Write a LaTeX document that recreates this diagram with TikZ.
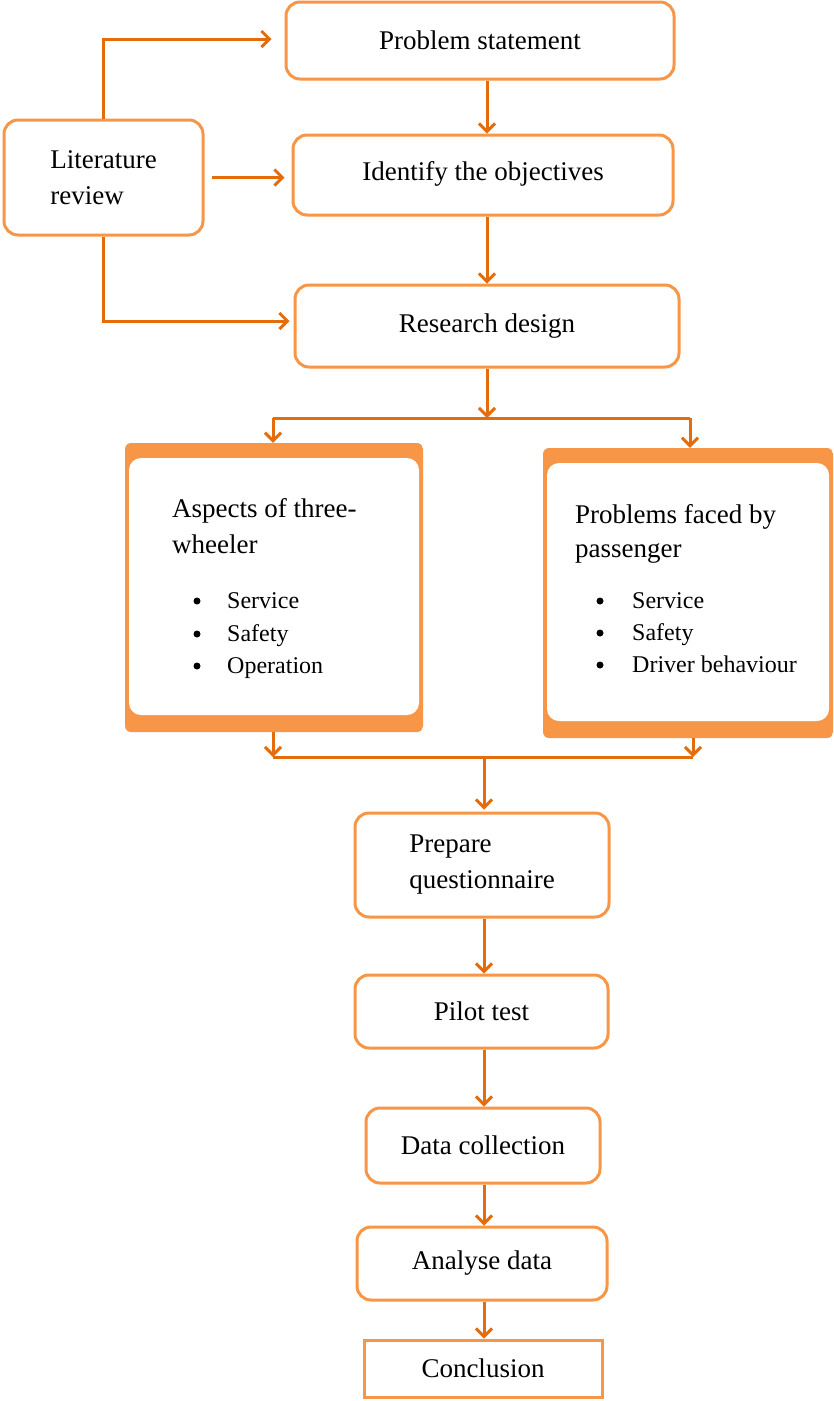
\documentclass[tikz,border=0pt]{standalone}
\usepackage{fontspec}
\setmainfont{Liberation Serif}
\usetikzlibrary{arrows.meta,calc}
\definecolor{boxor}{HTML}{F79646}
\definecolor{connor}{HTML}{E46C0A}
\newcommand{\titlefnt}{\fontsize{27}{36}\selectfont}
\newcommand{\itemfnt}{\fontsize{24}{33}\selectfont}
\begin{document}
\begin{tikzpicture}[x=1pt,y=-1pt,
  roundbox/.style={draw=boxor, line width=3pt, rounded corners=14pt, inner sep=0pt, align=left, font=\titlefnt},
  sharpbox/.style={draw=boxor, line width=3pt, inner sep=0pt, font=\titlefnt},
  bigbox/.style={rectangle, rounded corners=6pt, inner sep=0pt,
    path picture={
      \fill[boxor] (path picture bounding box.north west) rectangle (path picture bounding box.south east);
      \fill[white, rounded corners=12pt] ([xshift=4pt,yshift=-15pt]path picture bounding box.north west) rectangle ([xshift=-4pt,yshift=17pt]path picture bounding box.south east);
    }},
  conn/.style={draw=connor, line width=3pt, -{Straight Barb[length=8pt,width=16pt]}},
  plainline/.style={draw=connor, line width=3pt},
  ttl/.style={anchor=base west, inner sep=0pt, font=\titlefnt},
  itm/.style={anchor=base west, inner sep=0pt, font=\itemfnt},
  bul/.style={circle, fill=black, inner sep=0pt, minimum size=7pt}]
\useasboundingbox (0,0) rectangle (834,1401);
\fill[white] (0,0) rectangle (834,1401);

% boxes
\node[roundbox, minimum width=388pt, minimum height=77pt] (ps) at (480,40.5) {Problem statement};
\node[roundbox, minimum width=380pt, minimum height=80pt] (io) at (483,175) {\raisebox{8pt}{Identify the objectives}};
\node[roundbox, minimum width=384pt, minimum height=82pt] (rd) at (487,326) {Research design};
\node[roundbox, minimum width=199pt, minimum height=115pt] (lit) at (103.5,177.5) {Literature\\review};

\node[bigbox, minimum width=298pt, minimum height=289pt] (asp) at (274,587.5) {};
\node[bigbox, minimum width=290pt, minimum height=290pt] (pfp) at (688,593) {};

\node[roundbox, minimum width=254pt, minimum height=104pt] (pq) at (482,865) {Prepare\\questionnaire};
\node[roundbox, minimum width=253pt, minimum height=73pt] (pt) at (481.5,1011.5) {Pilot test};
\node[roundbox, minimum width=234pt, minimum height=75pt] (dc) at (483,1145.5) {Data collection};
\node[roundbox, minimum width=250pt, minimum height=73pt] (ad) at (482,1263.5) {Analyse data};
\node[sharpbox, minimum width=238pt, minimum height=57pt] (con) at (483,1368.5) {Conclusion};

% texts of big boxes
\node[ttl] (asp1) at (172,517) {Aspects of three-};
\node[ttl] (asp2) at (172,553) {wheeler};
\node[bul] (aspb1) at (197,601) {};
\node[bul] (aspb2) at (197,634) {};
\node[bul] (aspb3) at (197,666) {};
\node[itm] (aspi1) at (227,608) {Service};
\node[itm] (aspi2) at (227,641) {Safety};
\node[itm] (aspi3) at (227,673) {Operation};

\node[ttl] (pfp1) at (575,523) {Problems faced by};
\node[ttl] (pfp2) at (575,557) {passenger};
\node[bul] (pfpb1) at (600,601) {};
\node[bul] (pfpb2) at (600,633) {};
\node[bul] (pfpb3) at (600,665) {};
\node[itm] (pfpi1) at (632,608) {Service};
\node[itm] (pfpi2) at (632,640) {Safety};
\node[itm] (pfpi3) at (632,672) {Driver behaviour};

% junction coordinates
\coordinate (split) at (487,418);
\coordinate (splitL) at (273,418);
\coordinate (splitR) at (690,418);
\coordinate (join) at (484,757);
\coordinate (joinL) at (273,757);
\coordinate (joinR) at (693,757);

% literature review connectors
\draw[conn, shorten >=13pt] (lit.north) |- ([yshift=1.5pt]ps.west);
\draw[conn, shorten <=7pt, shorten >=7pt] (lit.east) -- (lit.east -| io.west);
\draw[conn, shorten >=4pt] (lit.south) |- ([yshift=5pt]rd.west);

% main column
\draw[conn] (ps.south -| rd.north) -- (io.north -| rd.north);
\draw[conn] (io.south -| rd.north) -- (rd.north);
\draw[conn] (rd.south) -- (split);
\draw[plainline] (splitL) -- (splitR);
\draw[conn] (splitL) -- (splitL |- asp.north);
\draw[conn] (splitR) -- (splitR |- pfp.north);
\draw[conn] (asp.south -| joinL) -- (joinL);
\draw[conn] (pfp.south -| joinR) -- (joinR);
\draw[plainline] (joinL) -- (joinR);
\draw[conn, shorten >=2pt] (join) -- (pq.north -| join);
\draw[conn] (pq.south -| join) -- (pt.north -| join);
\draw[conn] (pt.south -| join) -- (dc.north -| join);
\draw[conn] (dc.south -| join) -- (ad.north -| join);
\draw[conn] (ad.south -| join) -- (con.north -| join);
\end{tikzpicture}
\end{document}
